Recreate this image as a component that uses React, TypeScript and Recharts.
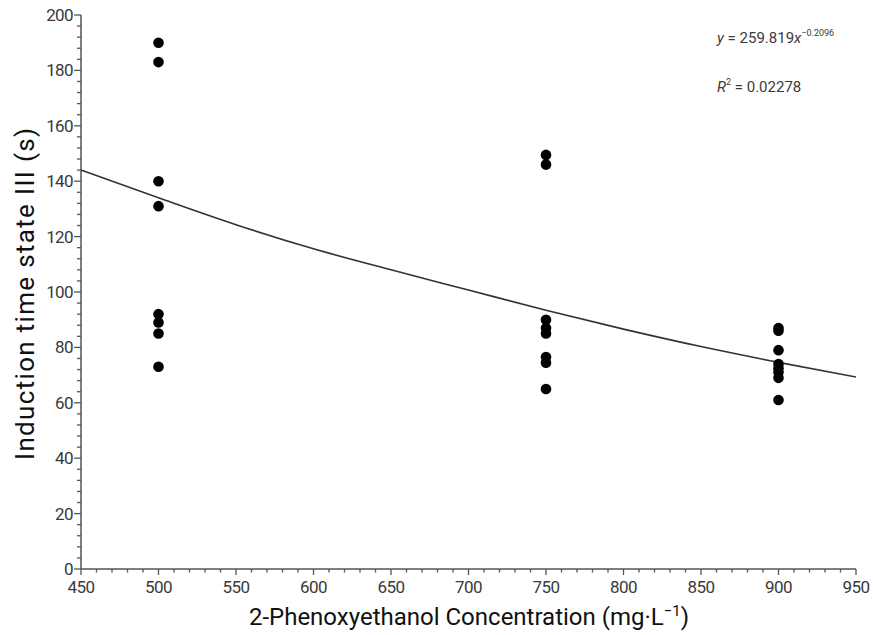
import React from 'react';
import { ScatterChart, Scatter, XAxis, YAxis } from 'recharts';

const concentrations = [500, 750, 900];
const time500 = [190, 183, 140, 131, 92, 89, 85, 73];
const time750 = [149.5, 146, 90, 87, 85, 76.5, 74.5, 65];
const time900 = [87, 86, 79, 74, 72.5, 71, 69, 61];

const trendX = [450, 500, 550, 600, 650, 700, 750, 800, 850, 900, 950];
const trendY = [144, 134, 124.3, 115.6, 108, 100.7, 93.4, 86.6, 80.3, 74.6, 69.3];

const xTicks = Array.from({ length: 51 }, (_, i) => 450 + i * 10);
const yTicks = Array.from({ length: 51 }, (_, i) => i * 4);

const FONT = '"Liberation Sans Narrow", "Arial Narrow", Roboto, sans-serif';
const TEXT = '#3a3a3a';
const AXIS = '#555';
const TICK_SIZE = 6;
const TICK_MARGIN = 2;

const points = [time500, time750, time900].flatMap((vals, i) =>
  vals.map(v => ({ x: concentrations[i], y: v }))
);
const trend = trendX.map((x, i) => ({ x, y: trendY[i] }));

const XTick = (props: any) => {
  const { x, y, payload } = props;
  const v = payload.value;
  const major = v % 50 === 0;
  const ay = y - TICK_SIZE - TICK_MARGIN;
  return (
    <g>
      <line x1={x} x2={x} y1={ay} y2={ay + (major ? 6 : 3.5)} stroke={AXIS} strokeWidth={1.3} />
      {major && (
        <text x={x} y={ay + 24} textAnchor="middle" fontSize={17} fill={TEXT} fontFamily={FONT} letterSpacing={-0.6}>
          {v}
        </text>
      )}
    </g>
  );
};

const YTick = (props: any) => {
  const { x, y, payload } = props;
  const v = payload.value;
  const major = v % 20 === 0;
  const ax = x + TICK_SIZE + TICK_MARGIN;
  return (
    <g>
      <line x1={ax} x2={ax - (major ? 7 : 4)} y1={y} y2={y} stroke={AXIS} strokeWidth={1.3} />
      {major && (
        <text x={ax - 8} y={y + 6} textAnchor="end" fontSize={17} fill={TEXT} fontFamily={FONT} letterSpacing={-0.6}>
          {v}
        </text>
      )}
    </g>
  );
};

const Dot = (props: any) => <circle cx={props.cx} cy={props.cy} r={5.3} fill="#000" />;

export default function App() {
  return (
    <div style={{ position: 'absolute', left: 0, top: 0, width: 873, height: 635, background: '#fff' }}>
      <ScatterChart width={873} height={635} margin={{ top: 15, right: 17, bottom: 36, left: 0 }}>
        <XAxis
          type="number"
          dataKey="x"
          domain={[450, 950]}
          ticks={xTicks}
          interval={0}
          height={30}
          tickLine={false}
          tickSize={TICK_SIZE}
          tickMargin={TICK_MARGIN}
          tick={<XTick />}
          axisLine={{ stroke: AXIS, strokeWidth: 1.5 }}
          allowDataOverflow
        />
        <YAxis
          type="number"
          dataKey="y"
          domain={[0, 200]}
          ticks={yTicks}
          interval={0}
          width={81}
          tickLine={false}
          tickSize={TICK_SIZE}
          tickMargin={TICK_MARGIN}
          tick={<YTick />}
          axisLine={{ stroke: AXIS, strokeWidth: 1.5 }}
          allowDataOverflow
        />
        <Scatter
          data={trend}
          line={{ stroke: '#333', strokeWidth: 1.6 }}
          lineJointType="monotoneX"
          shape={() => null}
          isAnimationActive={false}
        />
        <Scatter data={points} shape={<Dot />} isAnimationActive={false} />
      </ScatterChart>
      <svg
        width={873}
        height={635}
        style={{ position: 'absolute', left: 0, top: 0, pointerEvents: 'none' }}
        fontFamily={FONT}
      >
        <text
          transform="translate(25, 294) rotate(-90)"
          textAnchor="middle"
          dominantBaseline="central"
          fontSize={26}
          textLength={332}
          lengthAdjust="spacing"
          fill="#111"
        >
          Induction time state III (s)
        </text>
        <text x={469} y={625} textAnchor="middle" fontSize={24} fill="#111">
          2-Phenoxyethanol Concentration (mg·L
          <tspan dy={-9} fontSize={15}>−1</tspan>
          <tspan dy={9}>)</tspan>
        </text>
        <text x={717} y={43} fontSize={15} fill={TEXT}>
          <tspan fontStyle="italic">y</tspan> = 259.819<tspan fontStyle="italic">x</tspan>
          <tspan dy={-7} fontSize={9}>−0.2096</tspan>
        </text>
        <text x={717} y={92} fontSize={15} fill={TEXT}>
          <tspan fontStyle="italic">R</tspan>
          <tspan dy={-7} fontSize={9}>2</tspan>
          <tspan dy={7}> = 0.02278</tspan>
        </text>
      </svg>
    </div>
  );
}
